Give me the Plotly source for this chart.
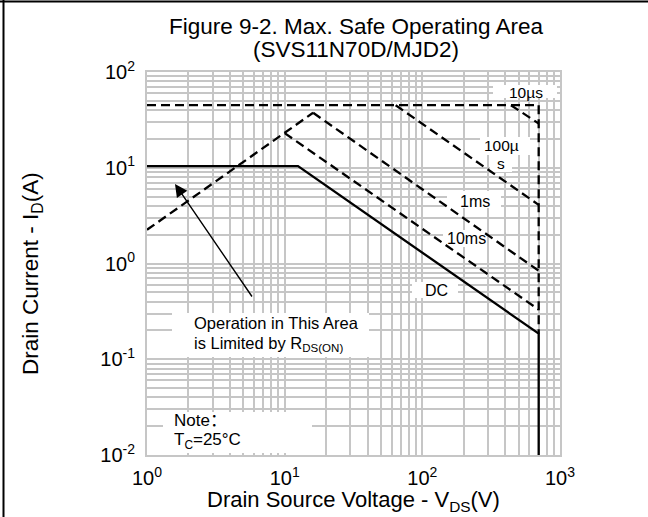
import plotly.graph_objects as go

# ---- Safe operating area boundaries (V_DS in volts, I_D in amps) ----
rds_v = [1, 16.1]
rds_i = [2.25, 37.5]

pulse_top_v = [1, 700]
pulse_top_i = [45, 45]

us10_v = [440, 700]
us10_i = [45, 29]

us100_v = [64, 700]
us100_i = [45, 4.1]

ms1_v = [16.1, 700]
ms1_i = [37.5, 0.84]

ms10_v = [10, 700]
ms10_i = [23, 0.33]

vmax_v = [700, 700]
vmax_i = [45, 0.185]

dc_v = [1, 12.5, 700, 700]
dc_i = [10.4, 10.4, 0.185, 0.01]

x_tickvals = [1, 10, 100, 1000]
x_ticktext = ["10<sup>0</sup>", "10<sup>1</sup>", "10<sup>2</sup>", "10<sup>3</sup>"]
y_tickvals = [0.01, 0.1, 1, 10, 100]
y_ticktext = ["10<sup>-2</sup>", "10<sup>-1</sup>", "10<sup>0</sup>", "10<sup>1</sup>", "10<sup>2</sup>"]

FONT = "Liberation Sans, Arial, sans-serif"
NOTE_FONT = "Liberation Sans, Noto Sans CJK SC, sans-serif"
W, H = 648, 517
ML, MR, MT, MB = 147, 88, 72, 62
PW, PH = W - ML - MR, H - MT - MB
X_RANGE = (0, 3)
Y_RANGE = (-2, 2)


def px(x):
    return (x - ML) / PW


def py(y):
    return (H - MB - y) / PH


def vx(x):
    """screen x -> volts on the log axis"""
    return 10 ** (X_RANGE[0] + px(x) * (X_RANGE[1] - X_RANGE[0]))


def vy(y):
    """screen y -> amps on the log axis"""
    return 10 ** (Y_RANGE[0] + py(y) * (Y_RANGE[1] - Y_RANGE[0]))


fig = go.Figure()

# white label backgrounds: drawn first, so they hide the grid but sit under the curves
boxes = [
    (493, 85, 557, 98),      # 10µs
    (480, 137, 530, 155),    # 100µ
    (490, 155, 512, 172),    # s
    (447, 191, 501, 208),    # 1ms
    (443, 230, 486, 247),    # 10ms
    (412, 282, 458, 298),    # DC
    (172, 313, 369, 357),    # Rds(on) note
    (163, 412, 312, 453),    # Tc note
]
for x0, y0, x1, y1 in boxes:
    fig.add_trace(go.Scatter(
        x=[vx(x0), vx(x1), vx(x1), vx(x0), vx(x0)],
        y=[vy(y0), vy(y0), vy(y1), vy(y1), vy(y0)],
        mode="lines", fill="toself", fillcolor="white",
        line=dict(width=0, color="white"), showlegend=False, hoverinfo="skip"))

dash = "9px,5px"
dashed_sets = [
    (rds_v, rds_i),
    (pulse_top_v, pulse_top_i),
    (us10_v, us10_i),
    (us100_v, us100_i),
    (ms1_v, ms1_i),
    (ms10_v, ms10_i),
    (vmax_v, vmax_i),
]
for xs, ys in dashed_sets:
    fig.add_trace(go.Scatter(x=xs, y=ys, mode="lines",
                             line=dict(color="black", width=2.3, dash=dash),
                             showlegend=False, hoverinfo="skip"))

fig.add_trace(go.Scatter(x=dc_v, y=dc_i, mode="lines",
                         line=dict(color="black", width=2.3),
                         showlegend=False, hoverinfo="skip"))

minor_x = [m * 10 ** d for d in range(0, 3) for m in range(2, 10)]
minor_y = [m * 10 ** d for d in range(-2, 2) for m in range(2, 10)]
grid_col = "#c6c6c6"

fig.update_xaxes(type="log", range=list(X_RANGE), tickvals=x_tickvals, ticktext=x_ticktext,
                 showgrid=True, gridcolor=grid_col, gridwidth=1.6,
                 minor=dict(tickvals=minor_x, showgrid=True, gridcolor=grid_col, gridwidth=1.6),
                 showline=True, linecolor=grid_col, linewidth=2, mirror=True,
                 ticks="", zeroline=False, ticklabelstandoff=4,
                 tickfont=dict(family=FONT, size=20, color="black"))
fig.update_yaxes(type="log", range=list(Y_RANGE), tickvals=y_tickvals, ticktext=y_ticktext,
                 showgrid=True, gridcolor=grid_col, gridwidth=1.6,
                 minor=dict(tickvals=minor_y, showgrid=True, gridcolor=grid_col, gridwidth=1.6),
                 showline=True, linecolor=grid_col, linewidth=2, mirror=True,
                 ticks="", zeroline=False, ticklabelstandoff=6,
                 tickfont=dict(family=FONT, size=20, color="black"))

# page frame (left and top rules)
shapes = [
    dict(type="line", xref="paper", yref="paper", x0=px(3.5), x1=px(3.5),
         y0=py(H), y1=py(0), line=dict(color="black", width=2)),
    dict(type="line", xref="paper", yref="paper", x0=px(0), x1=px(W),
         y0=py(1.5), y1=py(1.5), line=dict(color="black", width=2)),
]

ann = []


def label(text, x, y, size=16, xanchor="center", family=FONT, **kw):
    d = dict(text=text, xref="paper", yref="paper", x=px(x), y=py(y),
             xanchor=xanchor, yanchor="middle", showarrow=False,
             font=dict(family=family, size=size, color="black"))
    d.update(kw)
    ann.append(d)


label("10µs", 526, 92, size=15.5)
label("100µ", 501, 145, size=15.5)
label("s", 501, 163, size=15.5)
label("1ms", 475, 201)
label("10ms", 466, 239)
label("DC", 436, 290)
label("Operation in This Area", 276, 323, size=16.5)
label("is Limited by R<sub>DS(ON)</sub>", 268, 344, size=16.5)
label("Note：", 172, 420, size=17, xanchor="left", family=NOTE_FONT)
label("T<sub>C</sub>=25°C", 172, 441, size=17, xanchor="left", family=NOTE_FONT)

# titles
label("Figure 9-2. Max. Safe Operating Area", 356, 27, size=22.5)
label("(SVS11N70D/MJD2)", 356, 50, size=22.5)
label("Drain Source Voltage - V<sub>DS</sub>(V)", 353, 501, size=22)
label("Drain Current - I<sub>D</sub>(A)", 32, 273, size=22.5, textangle=-90)

# arrow pointing into the Rds(on)-limited region
ann.append(dict(text="", xref="paper", yref="paper", x=px(175), y=py(184),
                ax=78, ay=114, axref="pixel", ayref="pixel", showarrow=True,
                arrowhead=2, arrowsize=1.8, arrowwidth=1.4, arrowcolor="black", standoff=0))

fig.update_layout(width=W, height=H, margin=dict(l=ML, r=MR, t=MT, b=MB),
                  paper_bgcolor="white", plot_bgcolor="white",
                  shapes=shapes, annotations=ann,
                  font=dict(family=FONT, color="black"))

fig.write_html("out.html")
